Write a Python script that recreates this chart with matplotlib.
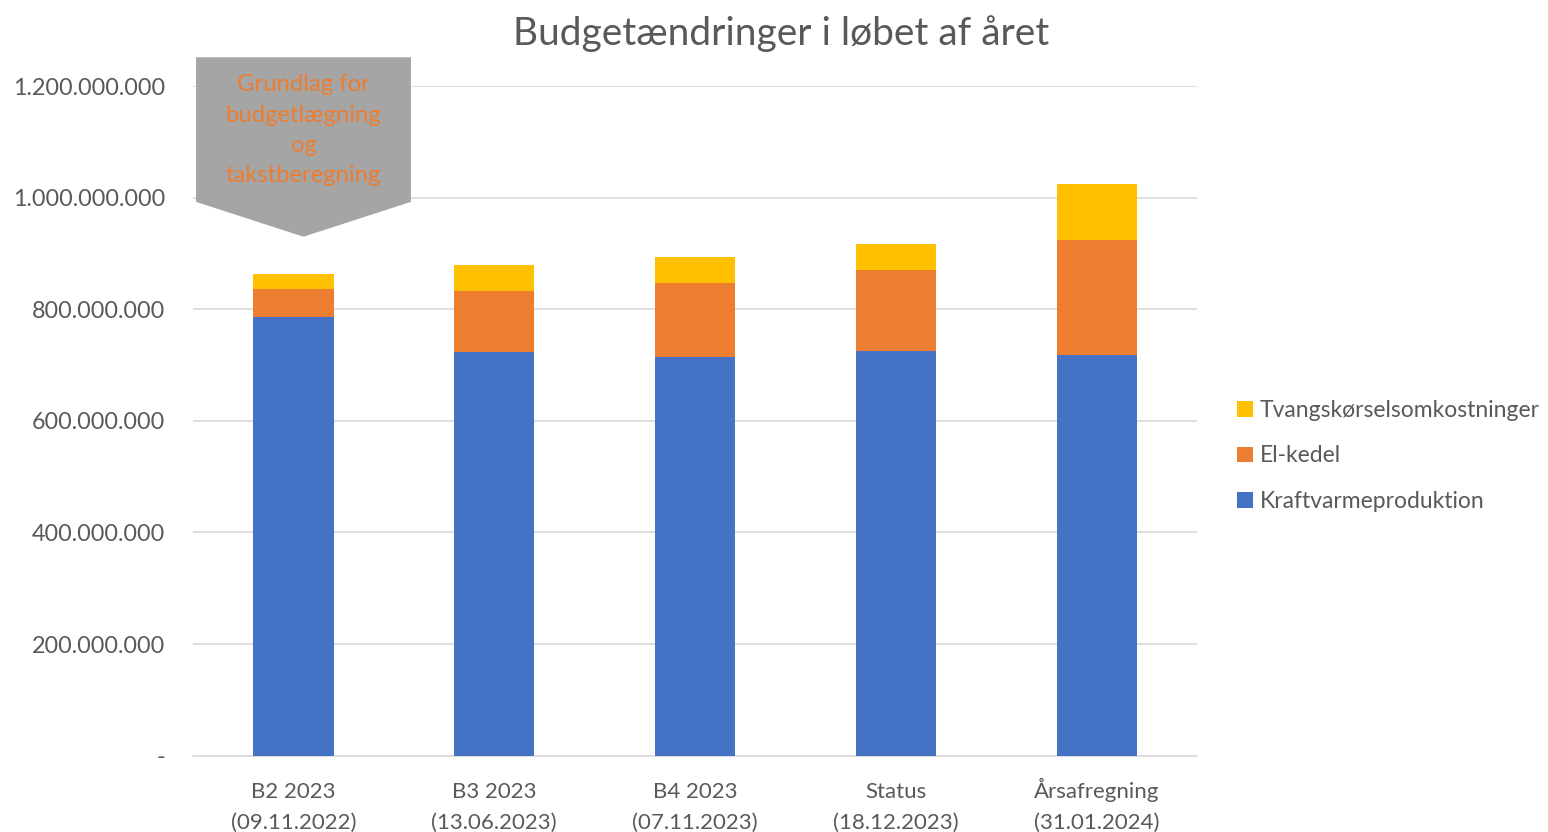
import matplotlib.pyplot as plt
from matplotlib.patches import Polygon
from matplotlib.transforms import blended_transform_factory
import numpy as np

plt.rcParams['font.family'] = ['Lato', 'DejaVu Sans']

# data
categories = ['B2 2023\n(09.11.2022)', 'B3 2023\n(13.06.2023)', 'B4 2023\n(07.11.2023)',
              'Status\n(18.12.2023)', 'Årsafregning\n(31.01.2024)']
kraftvarme = [787e6, 724e6, 715e6, 725e6, 718e6]
el_kedel = [49e6, 109e6, 132e6, 145e6, 206e6]
tvang = [27e6, 47e6, 46e6, 47e6, 101e6]
yticks = [0, 200e6, 400e6, 600e6, 800e6, 1000e6, 1200e6]

txt = '#595959'

fig = plt.figure(figsize=(15.48, 8.32), dpi=100)
ax = fig.add_axes([0.1247, 0.0917, 0.6486, 0.8049])

x = np.arange(len(categories))
w = 0.4
b1 = ax.bar(x, kraftvarme, w, color='#4472c4', label='Kraftvarmeproduktion', zorder=3)
b2 = ax.bar(x, el_kedel, w, bottom=kraftvarme, color='#ed7d31', label='El-kedel', zorder=3)
bot = np.array(kraftvarme) + np.array(el_kedel)
b3 = ax.bar(x, tvang, w, bottom=bot, color='#ffc000', label='Tvangskørselsomkostninger', zorder=3)

ax.set_xlim(-0.5, len(categories) - 0.5)
ax.set_ylim(0, 1200e6)
ax.set_yticks(yticks)
ax.set_yticklabels(['-' if v == 0 else f'{int(v):,}'.replace(',', '.') for v in yticks])
ax.set_xticks(x)
ax.set_xticklabels([])
ax.tick_params(axis='y', length=0, pad=20, labelsize=16.8, labelcolor=txt)
ax.tick_params(axis='x', length=0)
ax.grid(axis='y', color='#d9d9d9', linewidth=1.2, zorder=0)
for s in ['top', 'right', 'left']:
    ax.spines[s].set_visible(False)
ax.spines['bottom'].set_color('#d9d9d9')
ax.spines['bottom'].set_linewidth(1.2)

# category labels, aligned on the baseline of the last line
trans = blended_transform_factory(ax.transData, ax.transAxes)
for xi, lab in zip(x, categories):
    ax.text(xi, -0.1095, lab, transform=trans, ha='center', va='baseline', fontsize=16,
            color=txt, linespacing=1.66, multialignment='center', clip_on=False)

fig.text(0.5045, 0.946, 'Budgetændringer i løbet af året', ha='center', va='baseline',
         fontsize=28, color=txt)

# callout box over first bar
poly = Polygon([(0.003, 1.043), (0.217, 1.043), (0.217, 0.827), (0.110, 0.775), (0.003, 0.827)],
               closed=True, transform=ax.transAxes, facecolor='#a5a5a5', edgecolor='none',
               clip_on=False, zorder=4)
ax.add_patch(poly)
ax.text(0.110, 0.934, 'Grundlag for\nbudgetlægning\nog\ntakstberegning', transform=ax.transAxes,
        ha='center', va='center', fontsize=17.2, color='#ed7d31', linespacing=1.55, zorder=5)

handles = [b3, b2, b1]
leg = fig.legend(handles, [h.get_label() for h in handles], loc='center left',
                 bbox_to_anchor=(0.786, 0.452), frameon=False, fontsize=16.5,
                 handlelength=0.68, handleheight=0.68, handletextpad=0.3, labelspacing=1.07)
for t in leg.get_texts():
    t.set_color(txt)

fig.savefig('out.png', dpi=100)
